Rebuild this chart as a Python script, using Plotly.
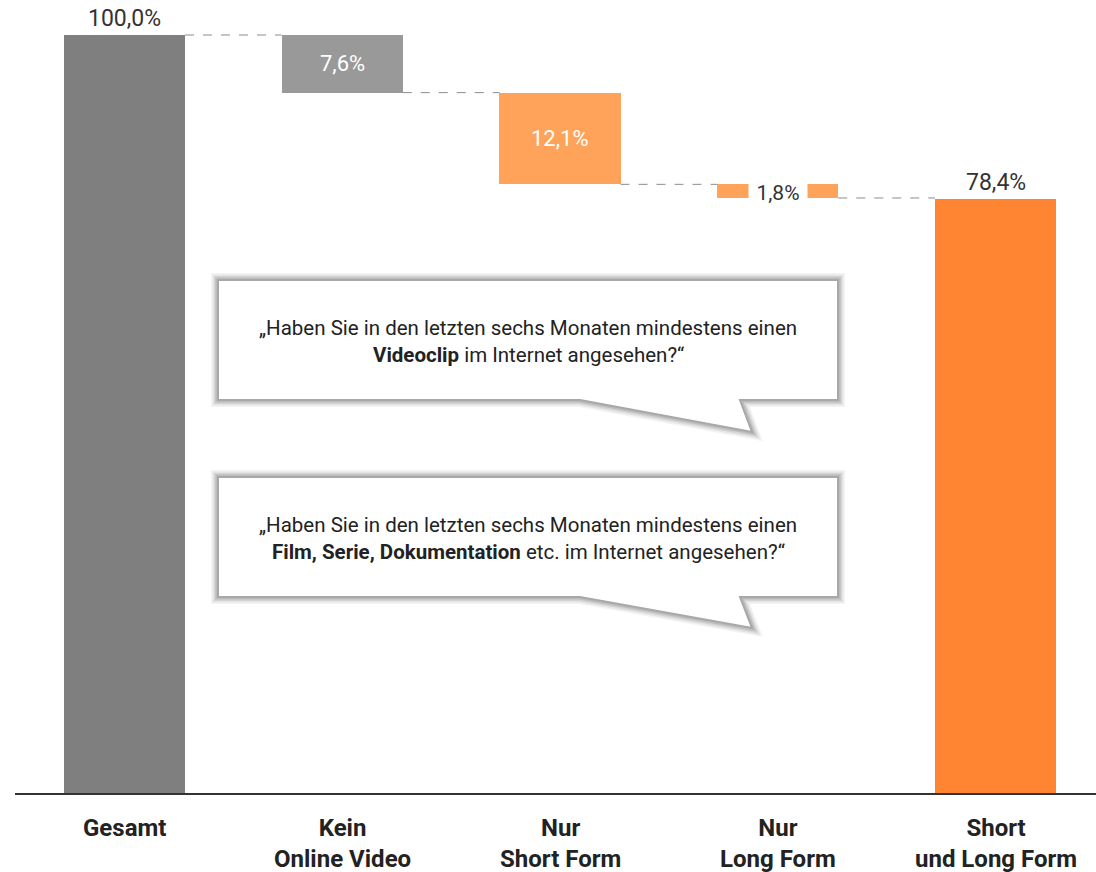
import plotly.graph_objects as go

# Waterfall data: share of respondents (%)
categories = ["Gesamt", "Kein<br>Online Video", "Nur<br>Short Form", "Nur<br>Long Form", "Short<br>und Long Form"]
values = [100.0, 7.6, 12.1, 1.8, 78.4]
kinds = ["total", "delta", "delta", "delta", "total"]
labels = ["100,0%", "7,6%", "12,1%", "1,8%", "78,4%"]
bar_colors = ["#7f7f7f", "#999999", "#ffa35a", "#ffa35a", "#ff8533"]

W, H = 1096, 872
ML, MR, MT, MB = 15, 0, 0, 79
BAR_W = 0.556
FONT = "Roboto, Arial, sans-serif"

# running levels for the floating bars
bases, level = [], 100.0
for v, k in zip(values, kinds):
    if k == "total":
        bases.append(0.0)
        level = v
    else:
        bases.append(level - v)
        level = level - v

xs = list(range(len(values)))

fig = go.Figure()
fig.add_trace(go.Bar(
    x=xs, y=values, base=bases, width=BAR_W,
    marker=dict(color=bar_colors, line=dict(width=0)),
    hoverinfo="skip", showlegend=False,
))

shapes = []
annotations = []

# dashed connectors between neighbouring bars
for i in range(len(values) - 1):
    if kinds[i] == "total":
        yl = bases[i] + values[i]
    else:
        yl = bases[i]
    shapes.append(dict(type="line", xref="x", yref="y",
                       x0=i + BAR_W / 2, x1=i + 1 - BAR_W / 2, y0=yl, y1=yl,
                       line=dict(color="#8c8c8c", width=1, dash="dash")))

# value labels
for i, (v, b, k, lab) in enumerate(zip(values, bases, kinds, labels)):
    if k == "total":
        annotations.append(dict(x=i, y=b + v, xref="x", yref="y", text=lab,
                                showarrow=False, yanchor="bottom", yshift=1,
                                font=dict(family=FONT, size=23, color="#333333")))
    elif v >= 5:
        annotations.append(dict(x=i, y=b + v / 2, xref="x", yref="y", text=lab,
                                showarrow=False, yanchor="middle",
                                font=dict(family=FONT, size=22, color="#ffffff")))
    else:
        annotations.append(dict(x=i, y=b + v / 2, xref="x", yref="y", text=lab,
                                showarrow=False, yanchor="middle", yshift=-2,
                                bgcolor="#ffffff", width=56, borderpad=1,
                                font=dict(family=FONT, size=21, color="#333333")))

# category labels below the axis
for i, c in enumerate(categories):
    annotations.append(dict(x=i, y=0, xref="x", yref="paper", text="<b>" + c + "</b>",
                            showarrow=False, yanchor="top", yshift=-19,
                            font=dict(family=FONT, size=24, color="#222222")))


# speech-bubble callouts (pixel layout converted to paper coordinates)
def px(x, y):
    return (x - ML) / (W - ML - MR), (H - MB - y) / (H - MT - MB)


def bubble_path(left, top, right, bottom, tail_l, tail_r, tip):
    pts = [(left, top), (right, top), (right, bottom), (tail_r, bottom),
           tip, (tail_l, bottom), (left, bottom)]
    conv = [px(*p) for p in pts]
    return "M " + " L ".join(f"{a:.5f},{b:.5f}" for a, b in conv) + " Z"


bubbles = [
    dict(box=(218, 280, 838, 400), tail=(580, 740, (752, 432)),
         lines=["„Haben Sie in den letzten sechs Monaten mindestens einen",
                "<b>Videoclip</b> im Internet angesehen?“"]),
    dict(box=(218, 477, 838, 597), tail=(580, 740, (752, 628)),
         lines=["„Haben Sie in den letzten sechs Monaten mindestens einen",
                "<b>Film, Serie, Dokumentation</b> etc. im Internet angesehen?“"]),
]

for bub in bubbles:
    l, t, r, b = bub["box"]
    tl, tr, tip = bub["tail"]
    p = bubble_path(l, t, r, b, tl, tr, tip)
    for lw, op in [(14, 0.06), (11, 0.08), (8, 0.11), (5, 0.16)]:
        shapes.append(dict(type="path", xref="paper", yref="paper", path=p,
                           line=dict(color=f"rgba(70,70,70,{op})", width=lw),
                           fillcolor="rgba(0,0,0,0)", layer="above"))
    shapes.append(dict(type="path", xref="paper", yref="paper", path=p,
                       line=dict(color="#a8a8a8", width=2), fillcolor="#ffffff",
                       layer="above"))
    cx = (l + r) / 2
    for j, line in enumerate(bub["lines"]):
        xp, yp = px(cx, t + 48 + 27 * j)
        annotations.append(dict(x=xp, y=yp, xref="paper", yref="paper", text=line,
                                showarrow=False, xanchor="center", yanchor="middle",
                                font=dict(family=FONT, size=20.5, color="#222222")))

ymax = (H - MT - MB) / 7.58
xl = -(124.5 - ML) / 217.75
xr = 4 + (W - MR - 995.5) / 217.75

fig.update_layout(
    width=W, height=H,
    margin=dict(l=ML, r=MR, t=MT, b=MB),
    paper_bgcolor="#ffffff", plot_bgcolor="#ffffff",
    xaxis=dict(range=[xl, xr], showgrid=False, zeroline=False, showticklabels=False,
               ticks="", showline=True, linecolor="#333333", linewidth=2, fixedrange=True),
    yaxis=dict(range=[0, ymax], showgrid=False, zeroline=False, showticklabels=False,
               ticks="", showline=False, fixedrange=True),
    shapes=shapes, annotations=annotations, bargap=0, showlegend=False,
)

fig.write_html("out.html")
